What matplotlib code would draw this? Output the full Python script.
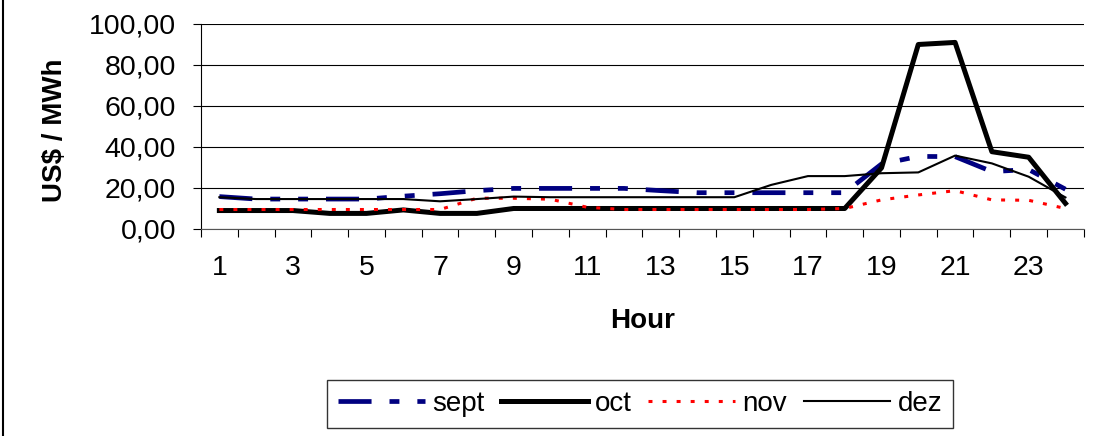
import matplotlib
matplotlib.use("Agg")
import matplotlib.pyplot as plt
import numpy as np
from matplotlib.ticker import FuncFormatter

plt.rcParams['font.family'] = ['Liberation Sans', 'DejaVu Sans']

# hourly prices, US$/MWh
hours = list(range(1, 25))
sept = [15.8, 14.6, 14.6, 14.6, 14.6, 16.0, 17.2, 18.7, 19.8, 19.8, 19.8, 19.8,
        18.7, 17.7, 17.7, 17.7, 17.7, 17.7, 31.7, 35.4, 35.3, 28.0, 29.0, 19.4]
oct_ = [9.0, 9.0, 9.0, 7.6, 7.6, 9.3, 7.6, 7.6, 10.0, 10.0, 10.0, 10.0,
        10.0, 10.0, 10.0, 10.0, 10.0, 10.0, 29.8, 90.0, 91.0, 37.7, 35.0, 12.5]
nov = [9.5, 9.5, 9.5, 9.5, 9.5, 9.5, 9.5, 15.0, 15.0, 14.5, 10.6, 9.5,
       9.5, 9.5, 9.5, 9.5, 9.5, 10.0, 14.2, 16.6, 18.7, 14.2, 14.0, 10.0]
dez = [15.5, 14.6, 14.6, 14.6, 14.6, 14.6, 13.5, 14.6, 15.8, 15.5, 15.5, 15.5,
       15.5, 15.5, 15.5, 21.5, 25.8, 25.8, 27.2, 27.6, 35.8, 32.0, 25.5, 15.4]
month_names = ["sept", "oct", "nov", "dez"]

fig = plt.figure(figsize=(10.97, 4.36), dpi=100)
ax = fig.add_axes([0.1832, 0.4748, 0.8048, 0.4702])

ax.plot(hours, sept, color="#000080", lw=3.4,
        linestyle=(0, (7, 3.8, 2.1, 3.8, 2.1, 3.8)), label=month_names[0])
ax.plot(hours, oct_, color="black", lw=3.6, label=month_names[1])
ax.plot(hours, nov, color="red", lw=2.2, linestyle=(0, (1.3, 3.3)), label=month_names[2])
ax.plot(hours, dez, color="black", lw=1.5, label=month_names[3])

ax.set_xlim(0.5, 24.5)
ax.set_ylim(0, 100)
ax.set_yticks(np.arange(0, 101, 20))
ax.yaxis.set_major_formatter(FuncFormatter(lambda v, p: ("%.2f" % v).replace(".", ",")))
ax.grid(axis="y", color="black", lw=0.8)
ax.set_axisbelow(True)

ax.set_xticks(hours[::2])
ax.set_xticks(np.arange(0.5, 25, 1), minor=True)
ax.tick_params(axis="x", which="major", length=0, pad=19, labelsize=20.5)
ax.tick_params(axis="x", which="minor", length=6, width=0.8, direction="out")
ax.tick_params(axis="y", length=6, width=0.8, direction="out", pad=12, labelsize=20.5)

for s in ["top", "right"]:
    ax.spines[s].set_visible(False)
ax.spines["left"].set_linewidth(0.8)
ax.spines["bottom"].set_linewidth(0.8)
ax.spines["bottom"].set_color("#555555")

ax.set_xlabel("Hour", fontsize=20, fontweight="bold")
ax.xaxis.set_label_coords(0.5, -0.385)
ax.set_ylabel("US\\$ / MWh", fontsize=20, fontweight="bold")
ax.yaxis.set_label_coords(-0.151, 0.48)

leg = fig.legend(loc="center", bbox_to_anchor=(0.5835, 0.0734), ncol=4, fontsize=20,
                 frameon=True, fancybox=False, edgecolor="black", handlelength=3.13,
                 handletextpad=0.25, columnspacing=0.6, borderpad=0.4)
leg.get_frame().set_linewidth(1.0)

# outer border, only left edge is visible in the original
fig.add_artist(plt.Line2D([0.0025, 0.0025], [0, 1], transform=fig.transFigure, color="black", lw=1.5))

fig.savefig("out.png", dpi=100)
